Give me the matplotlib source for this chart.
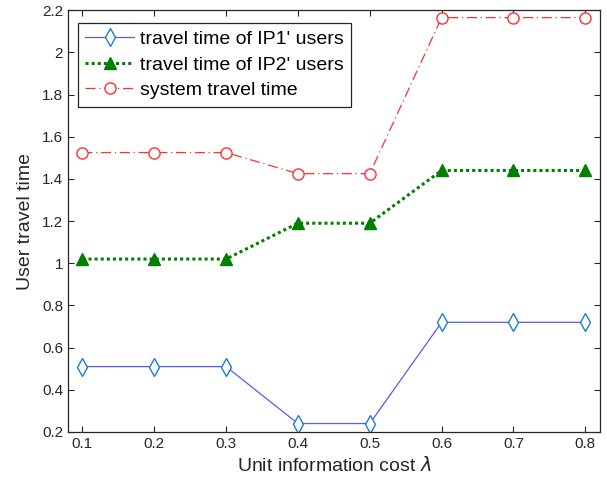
import matplotlib
matplotlib.use("Agg")
import matplotlib.pyplot as plt

plt.rcParams['font.family'] = ['Liberation Sans', 'DejaVu Sans']

x = [0.1, 0.2, 0.3, 0.4, 0.5, 0.6, 0.7, 0.8]
ip1 = [0.51, 0.51, 0.51, 0.24, 0.24, 0.72, 0.72, 0.72]
ip2 = [1.02, 1.02, 1.02, 1.19, 1.19, 1.44, 1.44, 1.44]
system = [1.525, 1.525, 1.525, 1.425, 1.425, 2.165, 2.165, 2.165]
labels = ["travel time of IP1' users", "travel time of IP2' users", "system travel time"]

fig = plt.figure(figsize=(6.07, 4.87), dpi=100)
ax = fig.add_axes([0.112, 0.113, 0.876, 0.866])

ax.plot(x, ip1, color='#5a5aee', lw=0.9, marker='d', markersize=9,
        markerfacecolor='white', markeredgecolor='#1a7fd6', markeredgewidth=1.0,
        label=labels[0])
ax.plot(x, ip2, color='#007f00', lw=2.2, ls=(0, (1, 1)), marker='^', markersize=8.5,
        markerfacecolor='#007f00', markeredgecolor='#007f00', label=labels[1])
ax.plot(x, system, color='#ff3030', lw=0.9, ls=(0, (8, 3, 1, 3)), marker='o', markersize=8,
        markerfacecolor='white', markeredgecolor='#ff3030', markeredgewidth=1.0,
        label=labels[2])

ax.set_xlim(0.08, 0.82)
ax.set_ylim(0.2, 2.2)
ax.set_xticks(x)
ax.set_xticklabels(['0.1', '0.2', '0.3', '0.4', '0.5', '0.6', '0.7', '0.8'])
ax.set_yticks([0.2, 0.4, 0.6, 0.8, 1.0, 1.2, 1.4, 1.6, 1.8, 2.0, 2.2])
ax.set_yticklabels(['0.2', '0.4', '0.6', '0.8', '1', '1.2', '1.4', '1.6', '1.8', '2', '2.2'])
ax.tick_params(direction='in', top=True, right=True, labelsize=11, length=4, width=0.8,
               colors='#262626')
for s in ax.spines.values():
    s.set_color('#262626')
    s.set_linewidth(0.9)

ax.set_xlabel(r'Unit information cost $\lambda$', fontsize=14, color='#262626', labelpad=4)
ax.set_ylabel('User travel time', fontsize=14, color='#262626', labelpad=6)

leg = ax.legend(loc='upper left', bbox_to_anchor=(0.018, 0.97), fontsize=14,
                frameon=True, fancybox=False, edgecolor='#262626', framealpha=1,
                handlelength=2.5, borderpad=0.4, labelspacing=0.4, handletextpad=0.3,
                borderaxespad=0)
leg.get_frame().set_linewidth(0.9)

fig.savefig('out.png', dpi=100)
